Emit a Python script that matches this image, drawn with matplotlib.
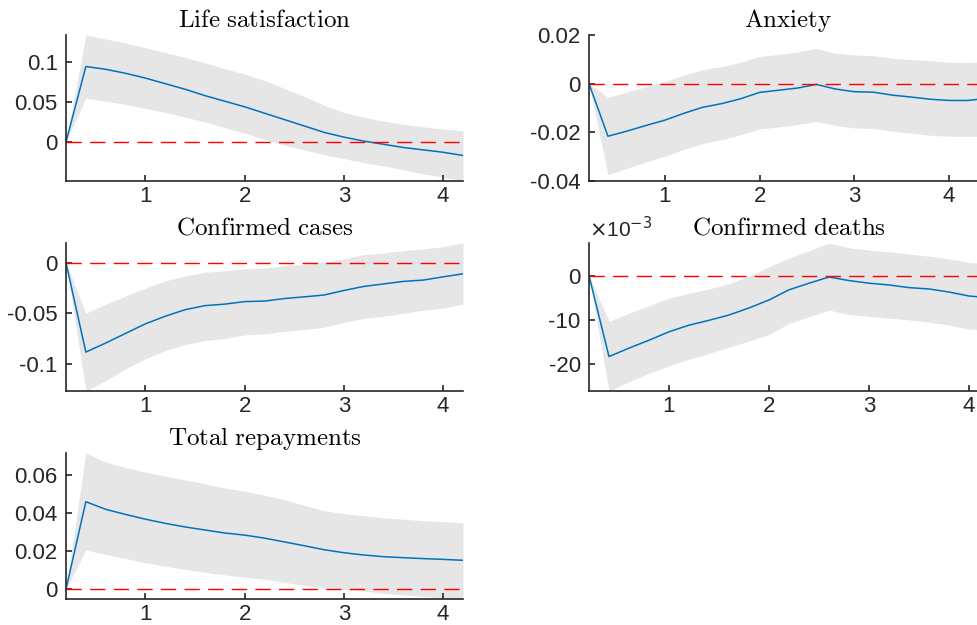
"""Impulse responses with confidence bands, MATLAB look."""

import numpy as np
import matplotlib
matplotlib.use("Agg")
import matplotlib.pyplot as plt
from matplotlib.ticker import FuncFormatter

plt.rcParams["font.family"] = ["Liberation Sans", "DejaVu Sans"]
plt.rcParams["mathtext.fontset"] = "cm"
plt.rcParams["axes.unicode_minus"] = False

# horizon (years), 0.2 steps
x = [0.2, 0.4, 0.6, 0.8, 1.0, 1.2, 1.4, 1.6, 1.8, 2.0, 2.2,
     2.4, 2.6, 2.8, 3.0, 3.2, 3.4, 3.6, 3.8, 4.0, 4.2]
x_ext = x + [4.4]

life_irf = [0, 0.0945, 0.091, 0.086, 0.080, 0.073, 0.066, 0.058, 0.051, 0.044, 0.036,
            0.028, 0.020, 0.012, 0.006, 0.001, -0.003, -0.007, -0.010, -0.013, -0.017]
life_hi = [0, 0.134, 0.129, 0.124, 0.118, 0.112, 0.106, 0.099, 0.092, 0.085, 0.077,
           0.067, 0.057, 0.046, 0.037, 0.031, 0.026, 0.022, 0.019, 0.016, 0.014]
life_lo = [0, 0.055, 0.051, 0.047, 0.042, 0.037, 0.031, 0.025, 0.018, 0.011, 0.003,
           -0.004, -0.010, -0.016, -0.021, -0.026, -0.030, -0.035, -0.040, -0.044, -0.049]

anx_irf = [0, -0.0216, -0.0195, -0.0172, -0.0150, -0.0122, -0.0097, -0.0082, -0.0062, -0.0036, -0.0027,
           -0.0018, -0.0003, -0.0022, -0.0033, -0.0035, -0.0047, -0.0055, -0.0064, -0.0069, -0.0069, -0.0060]
anx_hi = [0, -0.0056, -0.0035, -0.0012, 0.0009, 0.0035, 0.0057, 0.0070, 0.0088, 0.0112, 0.0120,
          0.0130, 0.0145, 0.0125, 0.0118, 0.0115, 0.0105, 0.0099, 0.0094, 0.0088, 0.0087, 0.0090]
anx_lo = [0, -0.0374, -0.0348, -0.0322, -0.0298, -0.0270, -0.0246, -0.0230, -0.0210, -0.0186, -0.0178,
          -0.0168, -0.0155, -0.0172, -0.0182, -0.0184, -0.0195, -0.0203, -0.0212, -0.0216, -0.0217, -0.0215]

cases_irf = [0, -0.0885, -0.0795, -0.070, -0.0605, -0.053, -0.0465, -0.0425, -0.041, -0.0385, -0.038,
             -0.0355, -0.0338, -0.032, -0.0275, -0.0235, -0.021, -0.0185, -0.0172, -0.014, -0.011]
cases_hi = [0, -0.050, -0.041, -0.033, -0.025, -0.018, -0.013, -0.0095, -0.008, -0.006, -0.0053,
            -0.003, -0.0015, 0.0, 0.004, 0.008, 0.0095, 0.012, 0.0135, 0.016, 0.0195]
cases_lo = [0, -0.127, -0.117, -0.105, -0.095, -0.087, -0.081, -0.077, -0.075, -0.0715, -0.0705,
            -0.068, -0.066, -0.064, -0.059, -0.055, -0.053, -0.050, -0.047, -0.045, -0.041]

# deaths in units of 1e-3
deaths_irf = [0, -18.3, -16.4, -14.6, -12.7, -11.2, -10.1, -8.9, -7.3, -5.5, -3.2,
              -1.7, -0.3, -1.1, -1.7, -2.1, -2.7, -3.0, -3.7, -4.6, -5.0]
deaths_hi = [0, -10.3, -8.5, -6.8, -5.1, -4.0, -3.0, -1.8, -0.1, 2.0, 4.0,
             5.6, 7.4, 6.3, 5.8, 5.4, 4.9, 4.4, 3.8, 3.0, 2.7]
deaths_lo = [0, -26.1, -24.0, -22.1, -20.4, -18.9, -17.6, -16.2, -14.8, -13.3, -10.8,
             -9.3, -7.8, -8.8, -9.2, -9.6, -10.0, -10.5, -11.2, -12.1, -12.4]

repay_irf = [0, 0.046, 0.042, 0.0393, 0.0368, 0.0346, 0.0327, 0.0311, 0.0295, 0.0284, 0.0268,
             0.0248, 0.0228, 0.0207, 0.0191, 0.0179, 0.0170, 0.0165, 0.0160, 0.0156, 0.0151]
repay_hi = [0, 0.0717, 0.0669, 0.064, 0.0616, 0.0595, 0.0575, 0.0555, 0.0532, 0.0515, 0.0495,
            0.0470, 0.0442, 0.0413, 0.0397, 0.0386, 0.0375, 0.0368, 0.0360, 0.0355, 0.0350]
repay_lo = [0, 0.0205, 0.0182, 0.016, 0.0138, 0.012, 0.0103, 0.0088, 0.0074, 0.0062, 0.0051,
            0.0035, 0.0018, 0.0007, -0.0003, -0.0012, -0.0022, -0.0031, -0.0040, -0.0047, -0.0053]

AX_COLOR = (0.15, 0.15, 0.15)
LINE_BLUE = (0, 0.447, 0.741)


def irf_panel(ax, xs, irf, lo, hi, title, xlim, ylim=None, yticks=None, scale=1.0):
    xs = np.asarray(xs)
    irf = np.asarray(irf) * scale
    lo = np.asarray(lo) * scale
    hi = np.asarray(hi) * scale
    ax.fill_between(xs, lo, hi, color=(0.9, 0.9, 0.9), linewidth=0)
    ax.plot(xs, irf, color=LINE_BLUE, linewidth=1.1)
    ax.axhline(0, color="red", linewidth=1.0, dashes=(11, 6))
    ax.set_xlim(*xlim)
    if ylim is None:
        ylim = (lo.min(), hi.max())
    ax.set_ylim(*ylim)
    ax.set_xticks([1, 2, 3, 4])
    if yticks is not None:
        ax.set_yticks(yticks)
    ax.yaxis.set_major_formatter(FuncFormatter(lambda v, p: "%g" % round(v / scale, 6)))
    for side in ("top", "right"):
        ax.spines[side].set_visible(False)
    for side in ("left", "bottom"):
        ax.spines[side].set_color(AX_COLOR)
        ax.spines[side].set_linewidth(1.2)
    ax.tick_params(direction="in", length=4, width=1.2, colors=AX_COLOR,
                   labelsize=16, pad=6)
    ax.tick_params(axis="x", pad=3.5)
    ax.set_title(r"$\mathrm{%s}$" % title.replace(" ", r"\ "), fontsize=18, pad=6)


W, H = 977, 625
fig = plt.figure(figsize=(W / 100, H / 100), dpi=100)


def add_axes(left, top, right, bottom):
    return fig.add_axes([left / W, 1 - bottom / H, (right - left) / W, (bottom - top) / H])


ax1 = add_axes(66, 35, 463, 181)
irf_panel(ax1, x, life_irf, life_lo, life_hi, "Life satisfaction", (0.2, 4.2),
          yticks=[0, 0.05, 0.1])

ax2 = add_axes(589, 35, 987, 181)
irf_panel(ax2, x_ext, anx_irf, anx_lo, anx_hi, "Anxiety", (0.2, 4.4),
          ylim=(-0.04, 0.02), yticks=[-0.04, -0.02, 0, 0.02])

ax3 = add_axes(66, 243, 463, 391)
irf_panel(ax3, x, cases_irf, cases_lo, cases_hi, "Confirmed cases", (0.2, 4.2),
          yticks=[-0.1, -0.05, 0])

ax4 = add_axes(589, 243, 989, 391)
irf_panel(ax4, x, deaths_irf, deaths_lo, deaths_hi, "Confirmed deaths", (0.2, 4.2),
          yticks=[-0.02, -0.01, 0], scale=1e-3)
ax4.text(0.0, 1.01, r"$\times$10$^{-3}$", transform=ax4.transAxes, fontsize=15,
         color=AX_COLOR, ha="left", va="bottom", math_fontfamily="dejavusans")

ax5 = add_axes(66, 453, 463, 599)
irf_panel(ax5, x, repay_irf, repay_lo, repay_hi, "Total repayments", (0.2, 4.2),
          yticks=[0, 0.02, 0.04, 0.06])

fig.savefig("out.png", dpi=100)
